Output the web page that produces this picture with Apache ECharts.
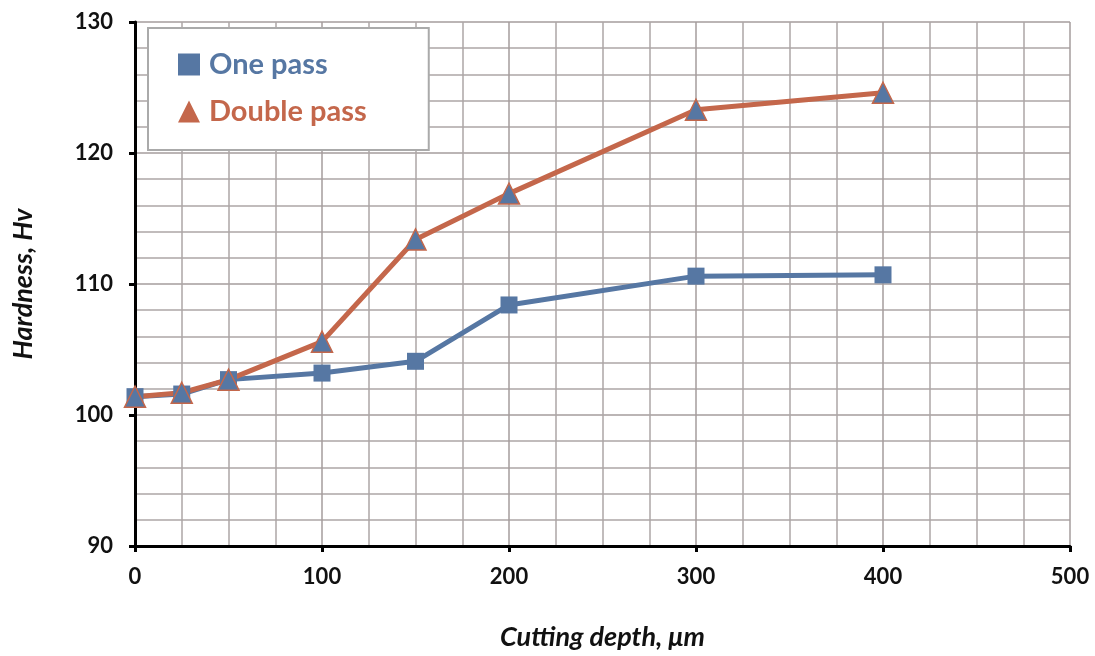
<!DOCTYPE html>
<html>
<head>
<meta charset="utf-8">
<script src="https://cdn.jsdelivr.net/npm/echarts@6/dist/echarts.min.js"></script>
<style>
  html, body { margin: 0; padding: 0; background: #fff; }
  #main { width: 1095px; height: 656px; }
</style>
</head>
<body>
<div id="main"></div>
<script>
var depth = [0, 25, 50, 100, 150, 200, 300, 400];
var onePass = [101.4, 101.6, 102.7, 103.2, 104.1, 108.4, 110.6, 110.7];
var doublePass = [101.4, 101.7, 102.7, 105.6, 113.4, 116.9, 123.3, 124.6];

var blue = '#5677A3';
var orange = '#C4674B';
var font = 'Lato, "Open Sans", sans-serif';

function pairs(xs, ys) {
    return xs.map(function (x, i) { return [x, ys[i]]; });
}

var myChart = echarts.init(document.getElementById('main'));
var option = {
    animation: false,
    grid: { left: 135, right: 25, top: 22, bottom: 108 },
    legend: {
        orient: 'vertical',
        left: 148,
        top: 28,
        padding: [22, 62, 24, 30],
        itemGap: 18,
        itemWidth: 22,
        itemHeight: 22,
        backgroundColor: '#fff',
        borderColor: '#aaa',
        borderWidth: 2,
        textStyle: { fontFamily: font, fontSize: 29, fontWeight: 'bold', padding: [0, 0, 0, 4] },
        data: [
            { name: 'One pass', icon: 'rect', itemStyle: { color: blue }, textStyle: { color: blue } },
            { name: 'Double pass', icon: 'triangle', itemStyle: { color: orange, borderWidth: 0 }, textStyle: { color: orange } }
        ]
    },
    xAxis: {
        type: 'value',
        min: 0, max: 500, interval: 100,
        name: 'Cutting depth, μm',
        nameLocation: 'middle',
        nameGap: 78,
        nameTextStyle: { fontFamily: font, fontSize: 27, fontWeight: 'bold', fontStyle: 'italic', color: '#111' },
        axisLine: { lineStyle: { color: '#000', width: 3 } },
        axisTick: { show: true, inside: false, length: 6, lineStyle: { color: '#000', width: 3 } },
        minorTick: { show: false, splitNumber: 4 },
        axisLabel: { fontFamily: font, fontSize: 22, fontWeight: 'bold', color: '#111', margin: 20 },
        splitLine: { lineStyle: { color: '#a49c9c', width: 1.5 } },
        minorSplitLine: { show: true, lineStyle: { color: '#ada6a6', width: 1.5 } }
    },
    yAxis: {
        type: 'value',
        min: 90, max: 130, interval: 10,
        name: 'Hardness, Hv',
        nameLocation: 'middle',
        nameGap: 98,
        nameTextStyle: { fontFamily: font, fontSize: 27, fontWeight: 'bold', fontStyle: 'italic', color: '#111' },
        axisLine: { show: true, lineStyle: { color: '#000', width: 3 } },
        axisTick: { show: true, length: 6, lineStyle: { color: '#000', width: 3 } },
        minorTick: { show: false, splitNumber: 5 },
        axisLabel: { fontFamily: font, fontSize: 22, fontWeight: 'bold', color: '#111', margin: 22 },
        splitLine: { lineStyle: { color: '#a49c9c', width: 1.5 } },
        minorSplitLine: { show: true, lineStyle: { color: '#ada6a6', width: 1.5 } }
    },
    series: [
        {
            name: 'One pass',
            type: 'line',
            data: pairs(depth, onePass),
            symbol: 'rect',
            symbolSize: 17,
            lineStyle: { color: blue, width: 5 },
            itemStyle: { color: blue }
        },
        {
            name: 'Double pass',
            type: 'line',
            data: pairs(depth, doublePass),
            symbol: 'triangle',
            symbolSize: 21,
            lineStyle: { color: orange, width: 5 },
            itemStyle: { color: blue, borderColor: orange, borderWidth: 1.5 }
        }
    ]
};
myChart.setOption(option);
</script>
</body>
</html>
